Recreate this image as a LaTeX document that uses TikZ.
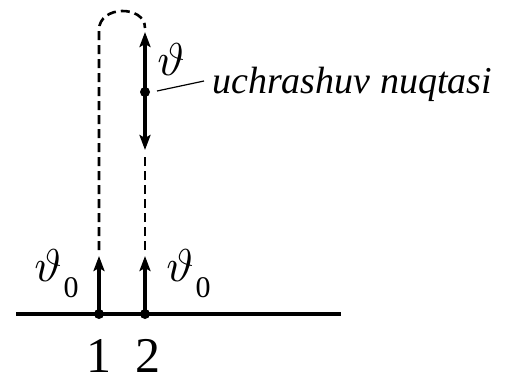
\documentclass[tikz,border=0pt]{standalone}
\usepackage{graphicx}
\usepackage{fontspec}
\setmainfont{Liberation Serif}
\newfontfamily\tms{Liberation Serif}
\usetikzlibrary{arrows.meta}
\newcommand{\bigth}{\scalebox{4.6}{$\vartheta$}}
\tikzset{
  vec/.style={line width=3.2pt,-{Stealth[length=15pt,width=11pt,inset=3pt]}},
  traj/.style={line width=2.6pt,dash pattern=on 9pt off 5pt},
  ground/.style={line width=4.2pt},
  dot/.style={circle,fill=black,inner sep=0pt,minimum size=10pt},
  lbl/.style={inner sep=0pt,font=\tms\fontsize{38}{42}\selectfont},
  thlbl/.style={inner sep=0pt},
}
\begin{document}
\begin{tikzpicture}[x=1pt,y=-1pt]
\useasboundingbox (0,0) rectangle (506,383);
\coordinate (g0) at (16,314);
\coordinate (g1) at (341,314);
\node[dot] (p1) at (99,314) {};
\node[dot] (p2) at (145,314) {};
\coordinate (t1) at (99,256);
\coordinate (t2) at (145,256);
\node[dot] (m) at (145,92) {};
\coordinate (mt) at (145,32);
\coordinate (mb) at (145,150);
\coordinate (d1s) at (99,250);
\coordinate (d1e) at (99,30);
\coordinate (d2s) at (145,28);
\coordinate (d3s) at (145,250);
\coordinate (d3e) at (145,154);
\draw[ground] (g0) -- (g1);
\draw[vec] (p1.center) -- (t1);
\draw[vec] (p2.center) -- (t2);
\draw[vec] (m.center) -- (mt);
\draw[vec] (m.center) -- (mb);
\draw[traj] (d1s) -- (d1e) .. controls (99,5) and (145,5) .. (d2s);
\draw[traj] (d3s) -- (d3e);
\node[thlbl] (th) at (171,60) {\bigth};
\node[lbl,anchor=west] (un) at (212,84) {\itshape uchrashuv nuqtasi};
\draw[line width=1.2pt] (157,91) -- (204,81);
\node[thlbl] (th1) at (48,266) {\bigth};
\node[lbl,font=\tms\fontsize{30}{34}\selectfont] (s1) at (71,288) {0};
\node[thlbl] (th2) at (180,266) {\bigth};
\node[lbl,font=\tms\fontsize{30}{34}\selectfont] (s2) at (203,288) {0};
\node[lbl,font=\tms\fontsize{50}{54}\selectfont] (n1) at (99,356) {1};
\node[lbl,font=\tms\fontsize{50}{54}\selectfont] (n2) at (148,356) {2};
\end{tikzpicture}
\end{document}
